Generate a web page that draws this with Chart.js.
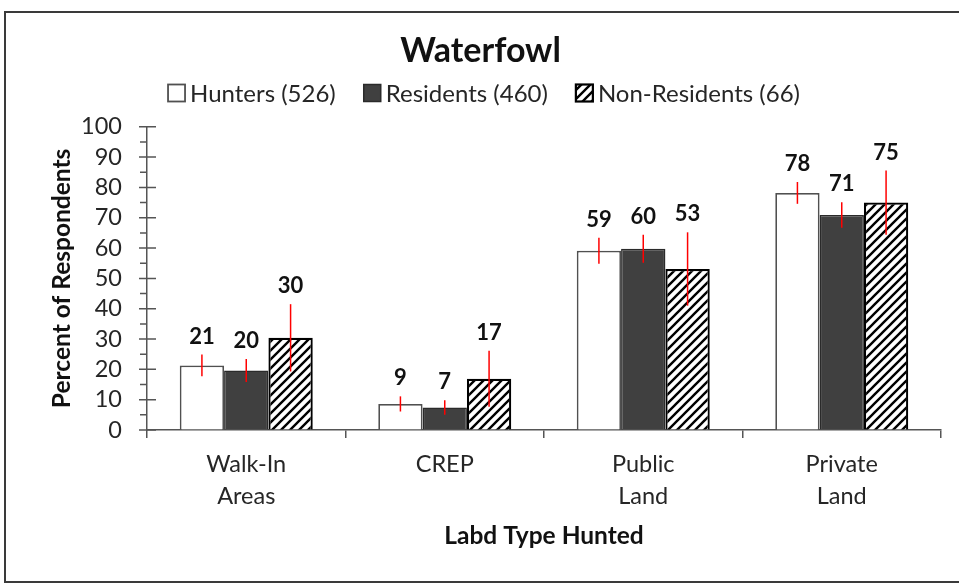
<!DOCTYPE html>
<html>
<head>
<meta charset="utf-8">
<script src="https://cdn.jsdelivr.net/npm/chart.js@4.4.1/dist/chart.umd.min.js"></script>
<style>
  html, body { margin: 0; padding: 0; background: #fff; }
  #wrap { width: 959px; height: 585px; }
</style>
</head>
<body>
<div id="wrap"><canvas id="chart" width="959" height="585"></canvas></div>
<script>
// data
const categories = [['Walk-In', 'Areas'], 'CREP', ['Public', 'Land'], ['Private', 'Land']];
const seriesNames = ['Hunters (526)', 'Residents (460)', 'Non-Residents (66)'];
const hunters = [21.3, 8.6, 59.1, 78.2];
const residents = [19.6, 7.4, 59.8, 70.9];
const nonResidents = [30.4, 16.9, 53.1, 75.0];
const huntersErr = [3.6, 2.5, 4.3, 3.6];
const residentsErr = [3.8, 2.4, 4.6, 4.2];
const nonResidentsErr = [11.1, 9.2, 12.1, 10.6];
const yTicks = [0, 10, 20, 30, 40, 50, 60, 70, 80, 90, 100];

const FONT = 'Lato';
const TXT = '#262626';

// diagonal hatch for the non-resident bars
const makeHatch = () => {
    const c = document.createElement('canvas');
    c.width = 9; c.height = 9;
    const g = c.getContext('2d');
    g.fillStyle = '#fff';
    g.fillRect(0, 0, 9, 9);
    g.strokeStyle = '#000';
    g.lineWidth = 2.4;
    g.beginPath();
    g.moveTo(-1, 10); g.lineTo(10, -1);
    g.moveTo(-2, 2); g.lineTo(2, -2);
    g.moveTo(7, 11); g.lineTo(11, 7);
    g.stroke();
    return g.createPattern(c, 'repeat');
};

// outer frame of the picture
const framePlugin = {
    id: 'frame',
    beforeDraw(chart) {
        const ctx = chart.ctx;
        ctx.save();
        ctx.fillStyle = '#fff';
        ctx.fillRect(0, 0, chart.width, chart.height);
        ctx.strokeStyle = '#3a3a3a';
        ctx.lineWidth = 2;
        ctx.beginPath();
        ctx.moveTo(975, 12);
        ctx.lineTo(5, 12);
        ctx.lineTo(5, 582);
        ctx.lineTo(975, 582);
        ctx.stroke();
        ctx.restore();
    }
};

// legend row drawn from the datasets (tight box-to-text gap like the original)
const legendPlugin = {
    id: 'legendRow',
    afterDraw(chart) {
        const ctx = chart.ctx;
        const ds = chart.data.datasets;
        const box = 17, gap = 5, sep = 28, cy = 93;
        ctx.save();
        ctx.font = '24px ' + FONT;
        const widths = ds.map(d => ctx.measureText(d.label).width);
        const total = widths.reduce((a, w) => a + box + gap + w, 0) + sep * (ds.length - 1);
        let x = 484 - total / 2;
        ds.forEach((d, i) => {
            ctx.fillStyle = d.backgroundColor;
            ctx.fillRect(x, cy - box / 2, box, box);
            ctx.strokeStyle = d.borderColor;
            ctx.lineWidth = d.borderWidth;
            ctx.strokeRect(x, cy - box / 2, box, box);
            ctx.fillStyle = TXT;
            ctx.textAlign = 'left';
            ctx.textBaseline = 'middle';
            ctx.fillText(d.label, x + box + gap, cy + 1);
            x += box + gap + widths[i] + sep;
        });
        ctx.restore();
    }
};

// crossing major ticks and small minor ticks on the value axis
const yTickPlugin = {
    id: 'yTickMarks',
    afterDraw(chart) {
        const ctx = chart.ctx, y = chart.scales.y;
        const x0 = chart.chartArea.left;
        ctx.save();
        ctx.strokeStyle = '#555';
        ctx.lineWidth = 1.5;
        ctx.beginPath();
        yTicks.forEach((v, i) => {
            const py = y.getPixelForValue(v);
            ctx.moveTo(x0 - 8, py); ctx.lineTo(x0 + 9, py);
            if (i > 0) {
                const my = y.getPixelForValue((v + yTicks[i - 1]) / 2);
                ctx.moveTo(x0 - 7, my); ctx.lineTo(x0, my);
            }
        });
        ctx.stroke();
        ctx.restore();
    }
};

// red error lines and value labels
const errorPlugin = {
    id: 'errs',
    afterDatasetsDraw(chart) {
        const ctx = chart.ctx, y = chart.scales.y;
        chart.data.datasets.forEach((ds, i) => {
            chart.getDatasetMeta(i).data.forEach((bar, j) => {
                const v = ds.data[j], e = ds.errors[j];
                const top = y.getPixelForValue(v + e);
                const bot = y.getPixelForValue(v - e);
                ctx.save();
                ctx.strokeStyle = '#ff0000';
                ctx.lineWidth = 1.5;
                ctx.beginPath();
                ctx.moveTo(bar.x, top);
                ctx.lineTo(bar.x, bot);
                ctx.stroke();
                ctx.fillStyle = '#111';
                ctx.font = 'bold 22px ' + FONT;
                ctx.textAlign = 'center';
                ctx.textBaseline = 'middle';
                ctx.fillText(Math.round(v), bar.x, top - 18);
                ctx.restore();
            });
        });
    }
};

const ctx = document.getElementById('chart').getContext('2d');

new Chart(ctx, {
    type: 'bar',
    data: {
        labels: categories,
        datasets: [{
            label: seriesNames[0],
            data: hunters,
            errors: huntersErr,
            backgroundColor: '#ffffff',
            borderColor: '#505050',
            borderWidth: 1.8
        }, {
            label: seriesNames[1],
            data: residents,
            errors: residentsErr,
            backgroundColor: '#404040',
            borderColor: '#2a2a2a',
            borderWidth: 1.5
        }, {
            label: seriesNames[2],
            data: nonResidents,
            errors: nonResidentsErr,
            backgroundColor: makeHatch(),
            borderColor: '#000',
            borderWidth: 2.2
        }]
    },
    options: {
        responsive: false,
        animation: false,
        layout: { padding: { left: 20, right: 18, top: 31, bottom: 30 } },
        datasets: { bar: { categoryPercentage: 0.67, barPercentage: 1.0 } },
        plugins: {
            title: {
                display: true,
                text: 'Waterfowl',
                color: '#111',
                font: { family: FONT, size: 34, weight: 'bold' },
                padding: { top: 0, bottom: 55 }
            },
            legend: { display: false },
            tooltip: { enabled: false }
        },
        scales: {
            x: {
                afterFit: (scale) => { scale.height = 125; },
                grid: { offset: true, drawOnChartArea: false, drawTicks: true, tickLength: 8, color: '#555', lineWidth: 1.5 },
                border: { display: true, color: '#555', width: 1.5 },
                ticks: { color: TXT, padding: 10, autoSkip: false, maxRotation: 0, font: { family: FONT, size: 23.5, lineHeight: 1.36 } },
                title: {
                    display: true,
                    text: 'Labd Type Hunted',
                    color: '#111',
                    font: { family: FONT, size: 24.5, weight: 'bold' },
                    padding: { top: 3 }
                }
            },
            y: {
                min: 0,
                max: 100,
                afterFit: (scale) => { scale.width = 127; },
                afterBuildTicks: (scale) => { scale.ticks = yTicks.map(v => ({ value: v })); },
                grid: { drawOnChartArea: false, drawTicks: false },
                border: { display: true, color: '#555', width: 1.5 },
                ticks: { color: TXT, padding: 25, autoSkip: false, font: { family: FONT, size: 23.5 } },
                title: {
                    display: true,
                    text: 'Percent of Respondents',
                    color: '#111',
                    font: { family: FONT, size: 24.5, weight: 'bold' },
                    padding: { top: 27 }
                }
            }
        }
    },
    plugins: [framePlugin, yTickPlugin, errorPlugin, legendPlugin]
});
</script>
</body>
</html>
